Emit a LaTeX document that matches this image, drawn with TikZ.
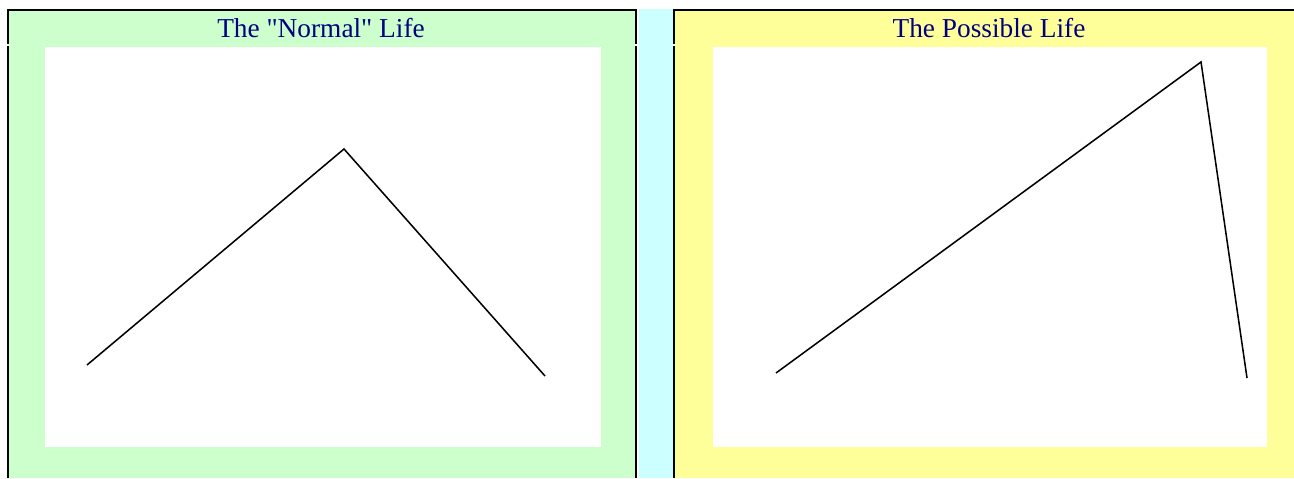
\documentclass[tikz,border=0pt]{standalone}
\usepackage{fontspec}
\setmainfont{Liberation Serif}
\definecolor{Mint}{HTML}{CCFFCC}
\definecolor{Ice}{HTML}{CCFFFF}
\definecolor{Butter}{HTML}{FFFF99}
\definecolor{Title}{HTML}{000080}
\tikzset{
  frame/.style={fill=black},
  canvas/.style={fill=white},
  heading/.style={font=\fontsize{20.5}{24}\selectfont,text=Title,anchor=base},
  lifeline/.style={draw=black,line width=1.15pt,line join=miter}
}
\begin{document}
\begin{tikzpicture}[x=.75pt,y=-.75pt]
  \useasboundingbox (0,0) rectangle (1294,478);
  % panels
  \fill[Mint] (9,11) rectangle (635,478);
  \fill[Ice] (639,9) rectangle (673,478);
  \fill[Butter] (675,11) rectangle (1294,478);
  \fill[canvas] (45,47) rectangle (601,447);
  \fill[canvas] (713,47) rectangle (1267,447);
  % borders
  \fill[frame] (7,9) rectangle (637,11);
  \fill[frame] (7,11) rectangle (9,44);
  \fill[frame] (7,46) rectangle (9,478);
  \fill[frame] (635,11) rectangle (637,44);
  \fill[frame] (635,46) rectangle (637,478);
  \fill[frame] (673,9) rectangle (1294,11);
  \fill[frame] (673,11) rectangle (675,44);
  \fill[frame] (673,46) rectangle (675,478);
  % titles
  \node[heading] (normaltitle) at (321,38) {The \textquotedbl Normal\textquotedbl\ Life};
  \node[heading] (possibletitle) at (989,38) {The Possible Life};
  % the two lives
  \coordinate (nstart) at (87,365);
  \coordinate (npeak) at (344,149);
  \coordinate (nend) at (545,376);
  \coordinate (pstart) at (776,373);
  \coordinate (ppeak) at (1201,62);
  \coordinate (pend) at (1247,378);
  \draw[lifeline] (nstart) -- (npeak) -- (nend);
  \draw[lifeline] (pstart) -- (ppeak) -- (pend);
\end{tikzpicture}
\end{document}
